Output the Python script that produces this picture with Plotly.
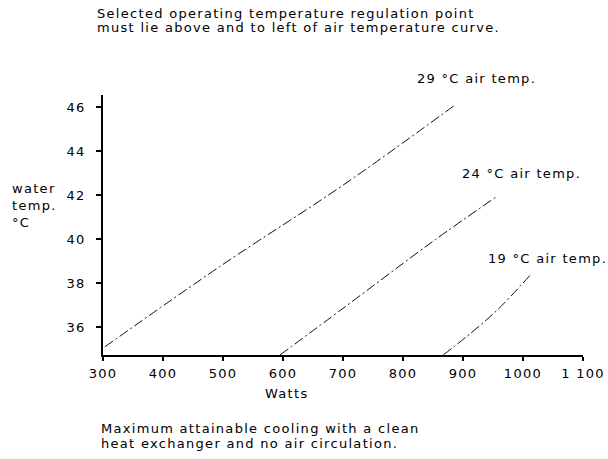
import plotly.graph_objects as go

# Cooling capacity curves: water temperature vs. heat removed, per air temperature
watts_29 = [303, 500, 700, 887]
temp_29 = [35.1, 38.85, 42.45, 46.1]

watts_24 = [595, 700, 850, 957]
temp_24 = [34.73, 36.85, 39.9, 41.95]

watts_19 = [867, 907, 957, 1012]
temp_19 = [34.73, 35.59, 36.77, 38.36]

curve_labels = ["29 °C air temp.", "24 °C air temp.", "19 °C air temp."]

x_ticks = [300, 400, 500, 600, 700, 800, 900, 1000, 1100]
x_tick_text = ["300", "400", "500", "600", "700", "800", "900", "1000", "1 100"]
y_ticks = [36, 38, 40, 42, 44, 46]
y_tick_text = [str(v) for v in y_ticks]

FONT = "DejaVu Sans"
SIZE = 13
SPACING = "letter-spacing:1.3px"
LINE = dict(color="#111111", width=1, dash="10px,3px,2px,3px")


def spaced(text):
    return f'<span style="{SPACING}">{text}</span>'


fig = go.Figure()
for xs, ys in [(watts_29, temp_29), (watts_24, temp_24), (watts_19, temp_19)]:
    fig.add_trace(go.Scatter(x=xs, y=ys, mode="lines", line=LINE, line_shape="spline",
                             showlegend=False, hoverinfo="skip"))

W, H = 608, 459
L, R, T, B = 103, 25, 95, 104
pw, ph = W - L - R, H - T - B


def px(x):
    return (x - L) / pw


def py(y):
    return (H - B - y) / ph


annotations = []


def add_text(text, x, y, xanchor="left"):
    annotations.append(dict(text=spaced(text), x=px(x), y=py(y), xref="paper", yref="paper",
                            xanchor=xanchor, yanchor="middle", showarrow=False,
                            align="left", borderpad=0,
                            font=dict(family=FONT, size=SIZE, color="black")))


add_text("Selected operating temperature regulation point", 96, 13)
add_text("must lie above and to left of air temperature curve.", 96, 27)
add_text("Maximum attainable cooling with a clean", 100, 429)
add_text("heat exchanger and no air circulation.", 100, 443)
add_text("Watts", 286, 393, xanchor="center")
add_text("water", 11, 188)
add_text("temp.", 11, 205)
add_text("°C", 11, 222)
add_text(curve_labels[0], 416, 78)
add_text(curve_labels[1], 461, 173)
add_text(curve_labels[2], 487, 258)

fig.update_layout(
    width=W, height=H,
    margin=dict(l=L, r=R, t=T, b=B, pad=0, autoexpand=False),
    paper_bgcolor="white", plot_bgcolor="white",
    font=dict(family=FONT, size=SIZE, color="black"),
    annotations=annotations,
    xaxis=dict(range=[300, 1100], tickvals=x_ticks,
               ticktext=[spaced(t) for t in x_tick_text], automargin=False,
               showgrid=False, zeroline=False, showline=True, linecolor="black",
               linewidth=1.5, ticks="outside", ticklen=4, tickcolor="black",
               tickwidth=1.5, ticklabelstandoff=2,
               tickfont=dict(family=FONT, size=SIZE)),
    yaxis=dict(range=[34.73, 46.55], tickvals=y_ticks,
               ticktext=[spaced(t) for t in y_tick_text], automargin=False,
               showgrid=False, zeroline=False, showline=True, linecolor="black",
               linewidth=1.5, ticks="outside", ticklen=5, tickcolor="black",
               tickwidth=1.5, ticklabelstandoff=8,
               tickfont=dict(family=FONT, size=SIZE)),
)

fig.write_html("out.html")
